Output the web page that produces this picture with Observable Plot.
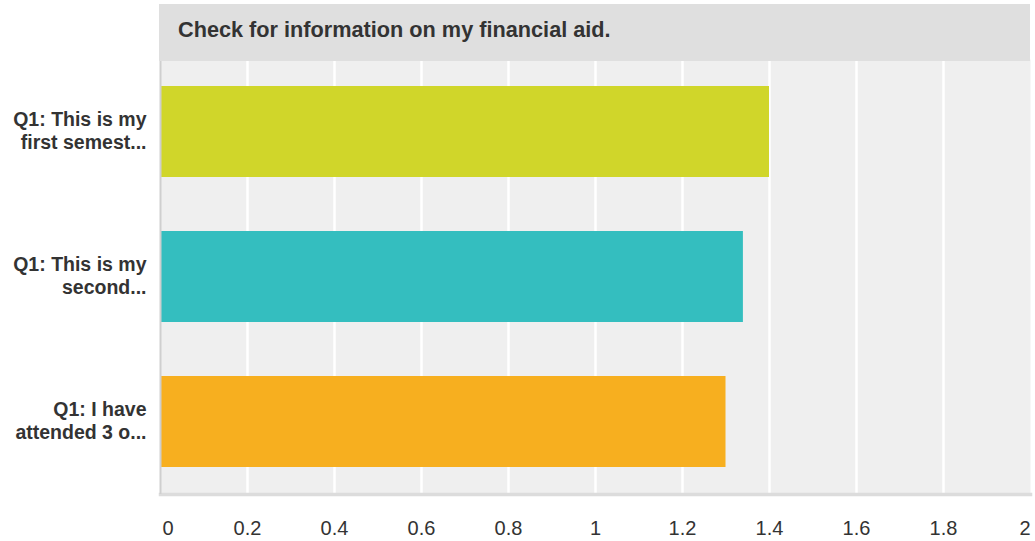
<!DOCTYPE html>
<html>
<head>
<meta charset="utf-8">
<script src="https://cdn.jsdelivr.net/npm/d3@7"></script>
<script src="https://cdn.jsdelivr.net/npm/@observablehq/plot@0.6"></script>
<style>
  html, body { margin: 0; padding: 0; background: #fff; }
  #wrap { position: relative; width: 1035px; height: 541px; font-family: Arial, "Liberation Sans", Helvetica, sans-serif; }
  #title { position: absolute; left: 159px; top: 4px; width: 871px; height: 57px; background: #dfdfdf;
           box-sizing: border-box; padding-left: 19px; line-height: 52px; font-size: 21.7px; font-weight: bold; color: #333; z-index: 2; }
  #chart { position: absolute; left: 0; top: 0; }
</style>
</head>
<body>
<div id="wrap">
  <div id="chart"></div>
  <div id="title">Check for information on my financial aid.</div>
</div>
<script>
const categories = ["Q1: This is my\nfirst semest...", "Q1: This is my\nsecond...", "Q1: I have\nattended 3 o..."];
const values = [1.4, 1.34, 1.3];
const barColors = ["#D0D62A", "#34BEBF", "#F7AF1F"];
const xTicks = [0, 0.2, 0.4, 0.6, 0.8, 1, 1.2, 1.4, 1.6, 1.8, 2];
const xTickLabels = ["0", "0.2", "0.4", "0.6", "0.8", "1", "1.2", "1.4", "1.6", "1.8", "2"];

const data = categories.map((c, i) => ({cat: c, value: values[i]}));
const ticks = xTicks.map((t, i) => ({t, label: xTickLabels[i]}));
const midTicks = ticks.slice(1, -1);
const firstTick = ticks.slice(0, 1);
const lastTick = ticks.slice(-1);

const tickStyle = {fontSize: 20, fill: "#333", frameAnchor: "bottom", dy: 40};

const chart = Plot.plot({
  width: 1035,
  height: 541,
  marginLeft: 160,
  marginRight: 5,
  marginTop: 59,
  marginBottom: 47,
  style: {background: "transparent", fontFamily: "Arial, 'Liberation Sans', Helvetica, sans-serif", overflow: "visible"},
  x: {domain: [0, 2], axis: null},
  y: {domain: categories, axis: null, paddingInner: 0.372, paddingOuter: 0.186},
  color: {domain: categories, range: barColors},
  marks: [
    Plot.frame({fill: "#efefef"}),
    Plot.ruleX(midTicks, {x: "t", stroke: "#ffffff", strokeWidth: 2.5}),
    Plot.barX(data, {x: "value", y: "cat", fill: "cat"}),
    Plot.frame({anchor: "bottom", stroke: "#dcdcdc", strokeWidth: 3.5}),
    Plot.ruleX([0], {stroke: "#cfcfcf", strokeWidth: 2}),
    Plot.text(categories, {y: d => d, text: d => d, frameAnchor: "left", dx: -14, dy: -2, textAnchor: "end",
      fontWeight: "bold", fontSize: 19.5, lineHeight: 1.2, fill: "#333"}),
    Plot.text(midTicks, {x: "t", text: "label", textAnchor: "middle", ...tickStyle}),
    Plot.text(firstTick, {x: "t", text: "label", textAnchor: "start", dx: 2, ...tickStyle}),
    Plot.text(lastTick, {x: "t", text: "label", textAnchor: "end", dx: 0, ...tickStyle})
  ]
});
document.getElementById("chart").appendChild(chart);
</script>
</body>
</html>
